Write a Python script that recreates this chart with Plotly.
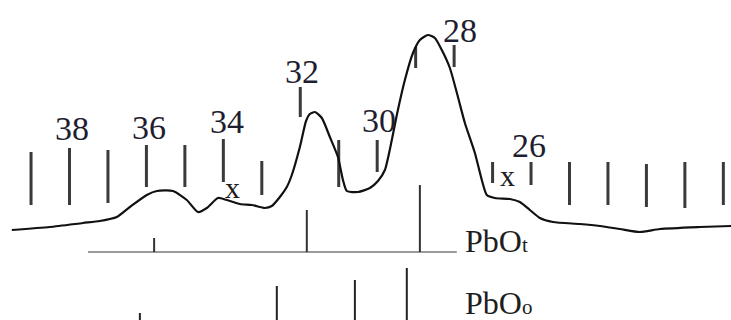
import plotly.graph_objects as go

# Diffraction pattern: 2-theta (deg) and intensity (a.u.)
two_theta = [39.50, 38.51, 37.65, 37.21, 36.77, 36.43, 35.99, 35.73, 35.31, 34.95,
             34.66, 34.43, 34.14, 33.91, 33.57, 33.26, 32.92, 32.74, 32.53, 32.35,
             32.22, 32.01, 31.85, 31.75, 31.62, 31.44, 31.23, 31.02, 30.89, 30.79,
             30.50, 30.19, 29.98, 29.80, 29.62, 29.49, 29.28, 29.07, 28.89, 28.68,
             28.50, 28.32, 28.11, 27.90, 27.72, 27.46, 27.28, 27.15, 26.94, 26.55,
             26.29, 26.03, 25.77, 25.43, 24.73, 24.21, 23.69, 23.17, 22.65, 21.61, 20.80]
intensity = [90, 93, 97, 99, 103, 113, 125, 129, 129, 120,
             108, 112, 122, 120, 116, 115, 112, 114, 123, 133,
             145, 173, 199, 206, 208, 202, 183, 163, 140, 129,
             128, 132, 139, 150, 180, 205, 240, 267, 280, 285,
             282, 270, 252, 223, 197, 167, 140, 125, 122, 121,
             118, 110, 102, 98, 96, 94, 91, 88, 91, 93, 94]

# Degree scale drawn as vertical bars along the pattern
scale_deg = [39, 38, 37, 36, 35, 34, 33, 32, 31, 30, 29, 28, 27, 26, 25, 24, 23, 22, 21]
scale_top = [168, 172, 170, 175, 175, 181, 159, 233, 180, 180, 273, 275, 158, 158, 158, 158, 156, 158, 158]
scale_bot = [115, 115, 117, 133, 133, 138, 125, 203, 133, 148, 252, 253, 137, 135, 115, 115, 113, 112, 115]

# Numbered degree labels
label_deg = [38, 36, 34, 32, 30, 28, 26]
label_y = [192, 193, 199, 249, 200, 290, 175]
label_dx = [2, 3, 4, 2, 2, 6, -2]

# Unassigned reflections
x_marks_deg = [33.75, 26.60]
x_marks_y = [133, 145]

# Reference lines: tetragonal PbO (litharge)
pbo_t_pos = [35.80, 31.83, 28.89]
pbo_t_int = [82, 110, 135]
pbo_t_base = 68
pbo_t_span = [37.52, 27.93]

# Reference lines: orthorhombic PbO (massicot)
pbo_o_pos = [36.17, 32.61, 30.58, 29.23]
pbo_o_int = [7, 34, 40, 52]
pbo_o_base = 0

fig = go.Figure()

# degree bars
bx, by = [], []
for d, t, b in zip(scale_deg, scale_top, scale_bot):
    bx += [d, d, None]
    by += [b, t, None]
fig.add_trace(go.Scatter(x=bx, y=by, mode="lines",
                         line=dict(color="#3a3a3a", width=3), hoverinfo="skip"))

# reference sticks
fig.add_trace(go.Scatter(x=pbo_t_span, y=[pbo_t_base, pbo_t_base], mode="lines",
                         line=dict(color="#9a9a9a", width=2), hoverinfo="skip"))
tx, ty = [], []
for p, h in zip(pbo_t_pos, pbo_t_int):
    tx += [p, p, None]
    ty += [pbo_t_base, h, None]
fig.add_trace(go.Scatter(x=tx, y=ty, mode="lines",
                         line=dict(color="#333333", width=2), hoverinfo="skip"))
ox, oy = [], []
for p, h in zip(pbo_o_pos, pbo_o_int):
    ox += [p, p, None]
    oy += [pbo_o_base - 5, h, None]
fig.add_trace(go.Scatter(x=ox, y=oy, mode="lines",
                         line=dict(color="#222222", width=2), hoverinfo="skip"))

# measured pattern
fig.add_trace(go.Scatter(x=two_theta, y=intensity, mode="lines",
                         line=dict(color="#111111", width=2.2, shape="spline", smoothing=0.6),
                         hoverinfo="skip"))

serif = "Liberation Serif, Times New Roman, serif"
for d, y, dx in zip(label_deg, label_y, label_dx):
    fig.add_annotation(x=d, y=y, text=str(d), showarrow=False, xshift=dx,
                       font=dict(family=serif, size=34, color="#1e1e30"),
                       xanchor="center", yanchor="middle")
for d, y in zip(x_marks_deg, x_marks_y):
    fig.add_annotation(x=d, y=y, text="x", showarrow=False,
                       font=dict(family=serif, size=30, color="#1e1e1e"),
                       xanchor="center", yanchor="middle")

fig.add_annotation(x=27.78, y=79, text="PbO<span style='font-size:21px'>t</span>",
                   showarrow=False, font=dict(family=serif, size=32, color="#1e1e1e"),
                   xanchor="left", yanchor="middle")
fig.add_annotation(x=27.78, y=17, text="PbO<span style='font-size:21px'>o</span>",
                   showarrow=False, font=dict(family=serif, size=32, color="#1e1e1e"),
                   xanchor="left", yanchor="middle")

fig.update_layout(
    width=731, height=320,
    margin=dict(l=0, r=0, t=0, b=0),
    paper_bgcolor="white", plot_bgcolor="white",
    showlegend=False,
    xaxis=dict(range=[39.807, 20.801], visible=False),
    yaxis=dict(range=[0, 320], visible=False),
)

fig.write_html("out.html")
